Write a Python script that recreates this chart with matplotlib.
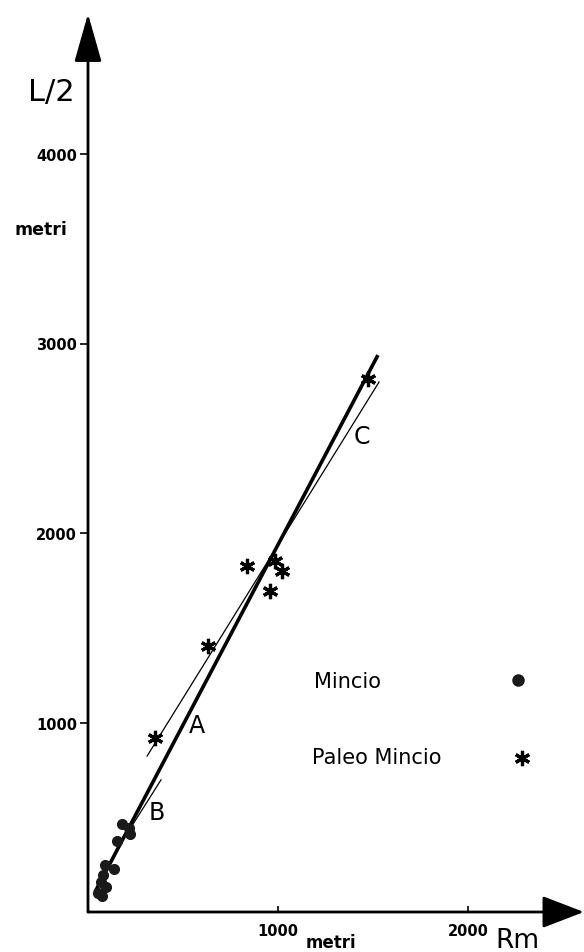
import matplotlib
matplotlib.use('Agg')
import matplotlib.pyplot as plt
from matplotlib.patches import FancyArrowPatch

plt.rcParams['font.family'] = ['DejaVu Sans']

# Mincio (dots): Rm vs L/2, metres
mincio_rm = [177, 216, 221, 154, 89, 137, 77, 66, 95, 54, 75]
mincio_l2 = [464, 441, 411, 373, 248, 227, 195, 157, 130, 100, 82]

# Paleo Mincio (asterisks)
paleo_rm = [353, 632, 837, 984, 1021, 958, 1474]
paleo_l2 = [918, 1404, 1826, 1852, 1800, 1694, 2813]

# fitted lines (end points)
line_a_rm = [37, 1526]
line_a_l2 = [106, 2939]
line_b_rm = [221, 384]
line_b_l2 = [438, 697]
line_c_rm = [311, 1532]
line_c_l2 = [823, 2797]

x_ticks = [1000, 2000]
y_ticks = [1000, 2000, 3000, 4000]

# ---------- layout ----------
W, H = 584, 953
X0, Y0 = 88, 913          # origin in pixels
SX, SY = 0.190, 0.1895    # pixels per metre
XMAX, YMAX = 2610, 4740

fig = plt.figure(figsize=(W / 100, H / 100), dpi=100)
ax = fig.add_axes([X0 / W, (H - Y0) / H, XMAX * SX / W, YMAX * SY / H])
ax.set_xlim(0, XMAX)
ax.set_ylim(0, YMAX)
for s in ax.spines.values():
    s.set_visible(False)

# axes with arrow heads
akw = dict(color='black', lw=2.0, mutation_scale=1, clip_on=False,
           shrinkA=0, shrinkB=0, zorder=3)
ax.add_patch(FancyArrowPatch((0, 0), (0, YMAX),
                             arrowstyle='-|>,head_length=30,head_width=8.5', **akw))
ax.add_patch(FancyArrowPatch((0, 0), (XMAX, 0),
                             arrowstyle='-|>,head_length=26,head_width=10', **akw))

ax.set_xticks(x_ticks)
ax.set_yticks(y_ticks)
ax.tick_params(axis='y', direction='out', length=6, width=1.2, pad=2, labelsize=10.5)
ax.tick_params(axis='x', direction='in', length=4, width=1.2, pad=8, labelsize=10.5)
for lab in ax.get_xticklabels() + ax.get_yticklabels():
    lab.set_fontweight('bold')

# lines
ax.plot(line_a_rm, line_a_l2, color='black', lw=2.6, solid_capstyle='butt')
ax.plot(line_c_rm, line_c_l2, color='black', lw=0.9)
ax.plot(line_b_rm, line_b_l2, color='black', lw=0.9)

# points
ax.plot(mincio_rm, mincio_l2, 'o', ms=7, color='#1a1a1a', clip_on=False)
ax.plot(paleo_rm, paleo_l2, marker=(6, 2, 0), ls='none', ms=11, mew=2.3,
        color='black')

# line labels
ax.text(574, 987, 'A', fontsize=17, ha='center', va='center')
ax.text(363, 528, 'B', fontsize=17, ha='center', va='center')
ax.text(1442, 2512, 'C', fontsize=17, ha='center', va='center')

# legend (text on the left, key on the right)
ax.text(1190, 1219, 'Mincio', fontsize=15, ha='left', va='center')
ax.text(1180, 818, 'Paleo Mincio', fontsize=15, ha='left', va='center')
ax.plot([2263], [1224], 'o', ms=8, color='#1a1a1a')
ax.plot([2284], [813], marker=(6, 2, 0), ls='none', ms=11, mew=2.3, color='black')

# axis titles
ax.text(-192, 4332, 'L/2', fontsize=22, ha='center', va='center')
ax.text(-250, 3604, 'metri', fontsize=12.5, fontweight='bold', ha='center', va='center')
ax.text(2258, -148, 'Rm', fontsize=19, ha='center', va='center')
ax.text(1279, -158, 'metri', fontsize=12, fontweight='bold', ha='center', va='center')

fig.savefig('out.png', dpi=100)
